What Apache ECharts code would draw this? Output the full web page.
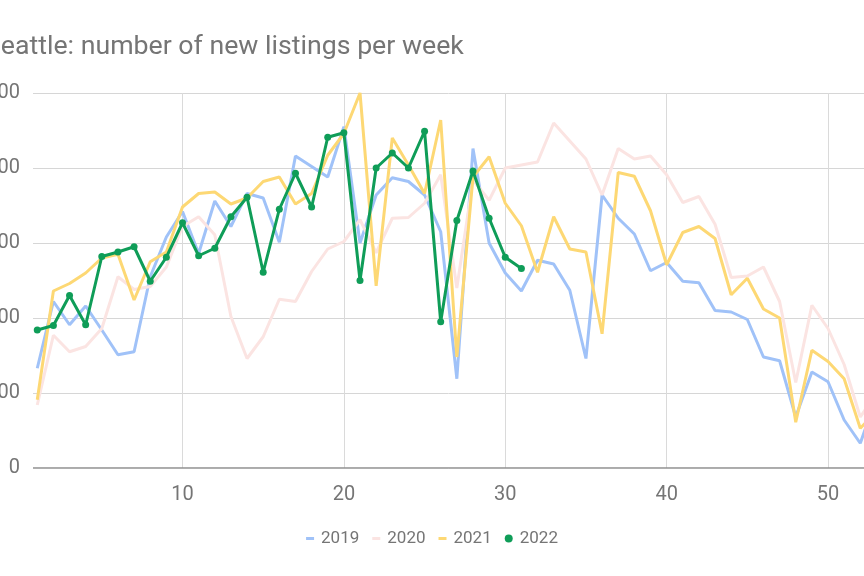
<!DOCTYPE html>
<html>
<head>
<meta charset="utf-8">
<script src="https://cdn.jsdelivr.net/npm/echarts@6/dist/echarts.min.js"></script>
<style>
html,body{margin:0;padding:0;background:#fff;}
#chart{width:864px;height:576px;}
</style>
</head>
<body>
<div id="chart"></div>
<script>
var titleText = 'Seattle: number of new listings per week';
var weeks = [];
for (var i = 1; i <= 53; i++) weeks.push(i);
var seriesNames = ['2019', '2020', '2021', '2022'];
var y2019 = [133,222,191,216,184,151,155,255,308,342,286,356,322,366,360,301,416,402,388,455,300,364,387,382,364,315,119,426,300,260,236,277,272,237,146,364,333,312,263,274,249,247,210,208,198,148,143,68,128,115,64,33,95];
var y2020 = [84,177,155,162,186,255,238,242,268,322,335,311,202,146,175,225,222,262,292,302,331,287,333,334,353,391,240,384,357,400,404,408,460,436,412,364,426,412,416,391,354,362,325,254,256,268,222,114,217,186,138,68,100];
var y2021 = [91,236,246,260,280,285,224,275,288,348,366,368,352,360,382,388,352,366,417,446,500,243,440,404,366,464,148,388,415,353,323,261,335,292,288,179,394,389,343,271,314,322,306,231,253,212,200,61,157,142,119,53,75];
var y2022 = [184,190,230,191,282,288,295,249,281,327,283,293,335,361,261,345,393,348,441,447,250,400,420,400,449,195,330,396,333,281,266];
var yTicks = [0,100,200,300,400,500];

function pairs(vals){ return vals.map(function(v,i){ return [weeks[i], v]; }); }

var colors = ['#a0c2f8', '#fbe4e2', '#fdd874', '#0f9d58'];
var lineIcon = 'path://M0,0H8V3H0Z';

var chart = echarts.init(document.getElementById('chart'), null, {renderer:'canvas'});
var font = 'Roboto, "Noto Sans", sans-serif';
function lineSeries(name, vals, color, z){
  return {
    name: name, type: 'line', data: pairs(vals),
    showSymbol: false, symbol: 'none',
    lineStyle: {color: color, width: 3},
    itemStyle: {color: color},
    z: z, clip: true,
    emphasis: {disabled: true}
  };
}
var option = {
  animation: false,
  backgroundColor: '#ffffff',
  title: {
    text: titleText, left: -20, top: 29,
    textStyle: {fontFamily: font, fontSize: 26.7, fontWeight: 'normal', color: '#757575'}
  },
  legend: {
    bottom: 24, left: 'center',
    itemWidth: 8, itemHeight: 8, itemGap: 13,
    textStyle: {fontFamily: font, fontSize: 17, color: '#757575', padding: [0,0,0,2]},
    data: [
      {name: '2019', icon: lineIcon},
      {name: '2020', icon: lineIcon},
      {name: '2021', icon: lineIcon},
      {name: '2022', icon: 'circle'}
    ]
  },
  grid: {left: 33, right: 0, top: 93, bottom: 108, containLabel: false, outerBoundsMode: 'none'},
  xAxis: {
    type: 'value', min: 0.736, max: 52.23, splitNumber: 5,
    axisLine: {show: false},
    axisTick: {show: false},
    axisLabel: {
      fontFamily: font, fontSize: 20, color: '#757575', margin: 17,
      showMinLabel: false, showMaxLabel: false,
      formatter: function(v){ return (Math.abs(v % 10) < 1e-9) ? String(v) : ''; }
    },
    splitLine: {show: true, showMinLine: false, showMaxLine: false, lineStyle: {color: '#dadada', width: 1}}
  },
  yAxis: {
    type: 'value', min: yTicks[0], max: yTicks[yTicks.length-1], interval: 100,
    axisLine: {show: false},
    axisTick: {show: false},
    axisLabel: {fontFamily: font, fontSize: 20, color: '#757575', margin: 13},
    splitLine: {show: true, lineStyle: {color: '#d6d6d6', width: 1}}
  },
  series: [
    lineSeries(seriesNames[0], y2019, colors[0], 2),
    lineSeries(seriesNames[1], y2020, colors[1], 3),
    lineSeries(seriesNames[2], y2021, colors[2], 4),
    {
      name: seriesNames[3], type: 'line', data: pairs(y2022),
      symbol: 'circle', symbolSize: 7, showSymbol: true,
      lineStyle: {color: colors[3], width: 3},
      itemStyle: {color: colors[3]},
      z: 5, clip: true,
      emphasis: {disabled: true}
    },
    {
      name: 'baseline', type: 'line', data: [[0.736,0],[52.23,0]],
      symbol: 'none', lineStyle: {color: '#8f8f8f', width: 1.5},
      z: 6, silent: true, emphasis: {disabled: true}
    }
  ]
};
chart.setOption(option);
</script>
</body>
</html>
